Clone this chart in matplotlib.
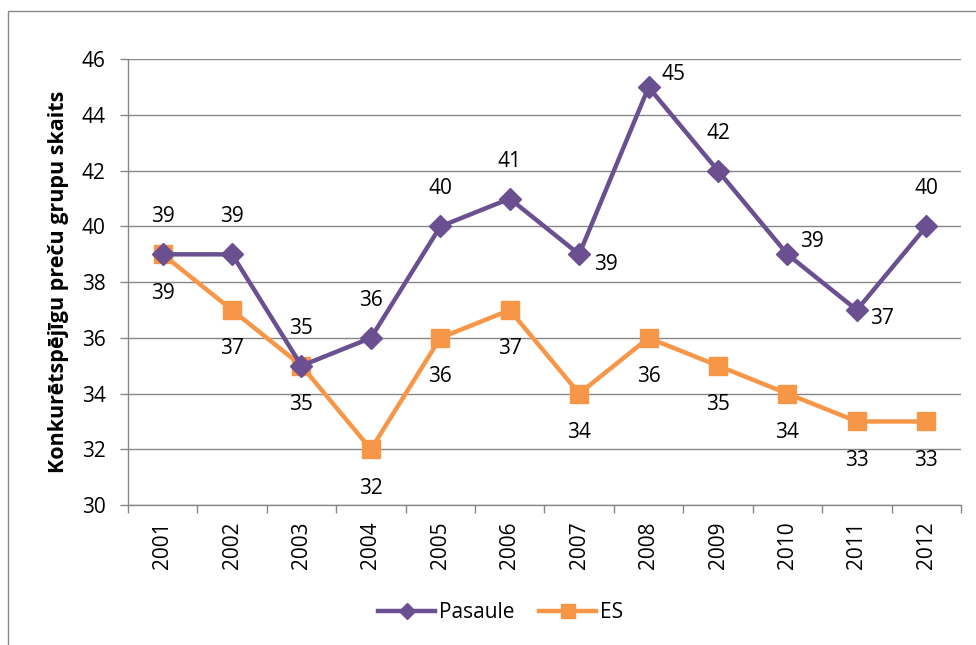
import matplotlib.pyplot as plt
from matplotlib.patches import Rectangle

plt.rcParams['font.family'] = ['Open Sans', 'DejaVu Sans']

years = ['2001', '2002', '2003', '2004', '2005', '2006',
         '2007', '2008', '2009', '2010', '2011', '2012']
pasaule = [39, 39, 35, 36, 40, 41, 39, 45, 42, 39, 37, 40]
es = [39, 37, 35, 32, 36, 37, 34, 36, 35, 34, 33, 33]

# label placement for Pasaule (offset in points): above by default, right for a few
p_offsets = {6: (19, -7), 7: (18, 9), 9: (18, 9), 10: (18, -6)}

purple = '#6B5091'
orange = '#F79646'
grid = '#878787'
fs = 15

fig = plt.figure(figsize=(9.76, 6.45), dpi=100)
ax = fig.add_axes([0.1311, 0.217, 0.8535, 0.691])

x = list(range(len(years)))
ax.plot(x, pasaule, color=purple, lw=3.2, marker='D', ms=11,
        mec=purple, mfc=purple, label='Pasaule', zorder=4, solid_joinstyle='round')
ax.plot(x, es, color=orange, lw=3.2, marker='s', ms=13,
        mec=orange, mfc=orange, label='ES', zorder=3, solid_joinstyle='round')

for i, v in enumerate(pasaule):
    off = p_offsets.get(i, (0, 27))
    ax.annotate(str(v), (i, v), xytext=off, textcoords='offset points',
                ha='center', va='center', fontsize=fs)
for i, v in enumerate(es):
    ax.annotate(str(v), (i, v), xytext=(0, -28), textcoords='offset points',
                ha='center', va='center', fontsize=fs)

ax.set_xlim(-0.5, len(years) - 0.5)
ax.set_ylim(30, 46)
ax.set_yticks(range(30, 47, 2))
ax.yaxis.grid(True, color=grid, lw=1)
ax.set_axisbelow(True)

ax.set_xticks(x)
ax.set_xticklabels(years, rotation=90, fontsize=fs)
ax.set_xticks([i - 0.5 for i in range(len(years) + 1)], minor=True)
ax.tick_params(axis='x', which='major', length=0, pad=12)
ax.tick_params(axis='x', which='minor', length=6, color=grid, width=1)
ax.tick_params(axis='y', length=6, color=grid, width=1, pad=10, labelsize=fs)

for s in ['top', 'right']:
    ax.spines[s].set_visible(False)
for s in ['left', 'bottom']:
    ax.spines[s].set_color(grid)
    ax.spines[s].set_linewidth(1)

ax.set_ylabel('Konkurētspējīgu preču grupu skaits', fontsize=15.5,
              fontweight='bold', labelpad=9)

fig.legend(*ax.get_legend_handles_labels(), loc='center',
           bbox_to_anchor=(0.513, 0.05), ncol=2, frameon=False, fontsize=fs,
           handlelength=2.7, columnspacing=1.2, handletextpad=0.2,
           markerscale=0.75)

fig.patches.append(Rectangle((8 / 976, -0.1), 1.2, 1 - 11 / 645 + 0.1,
                             transform=fig.transFigure, fill=False,
                             edgecolor='#888888', lw=1))

fig.savefig('out.png', dpi=100)
